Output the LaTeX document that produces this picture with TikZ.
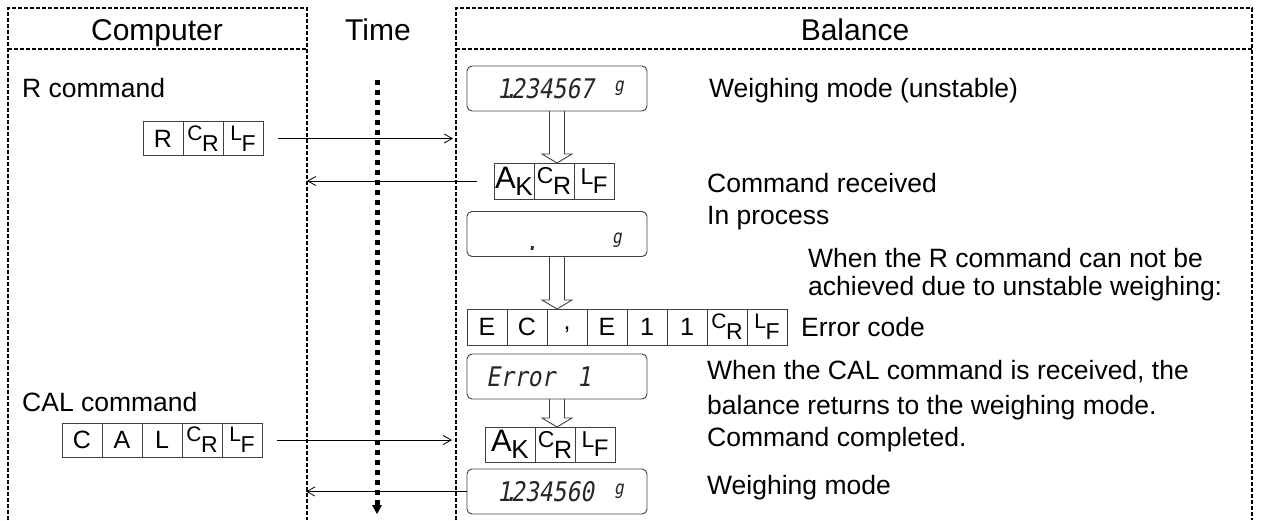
\documentclass[tikz,border=0pt]{standalone}
\usepackage{fontspec}
\setmainfont{Liberation Sans}
\newfontfamily\lcdfont[FakeSlant=0.18,FakeStretch=0.85]{DejaVu Sans Mono}
\usetikzlibrary{positioning,arrows.meta,calc}
\newcommand\pairtxt[6]{\raisebox{#3pt}{\fontsize{#1}{#1}\selectfont #5}\kern-0.5pt\raisebox{-#4pt}{\fontsize{#2}{#2}\selectfont #6}}
\newcommand\smCR{\pairtxt{21}{23}{5}{6}{C}{R}}
\newcommand\smLF{\pairtxt{21}{23}{5}{6}{L}{F}}
\newcommand\bigAK{\pairtxt{31}{26}{2}{5}{A}{K}}
\newcommand\bigCR{\pairtxt{23}{25}{5}{6}{C}{R}}
\newcommand\bigLF{\pairtxt{23}{24}{4}{5}{L}{F}}
\newcommand\hollowarrow[2]{\draw[hol] let \p1=(#1.south), \p2=(#2.north) in
  (\x1-7.5pt,\y1) -- (\x1-7.5pt,\y2+9pt) -- (\x1-15pt,\y2+9pt) -- (\x1,\y2)
  -- (\x1+15pt,\y2+9pt) -- (\x1+7.5pt,\y2+9pt) -- (\x1+7.5pt,\y1);}
\tikzset{
  frame/.style={line width=1.6pt, dash pattern=on 4pt off 2pt},
  cell/.style={draw=black!75, line width=0.9pt, minimum width=40pt, minimum height=34pt,
    inner sep=0pt, outer sep=0pt, font=\fontsize{25}{25}\selectfont},
  akcell/.style={cell, minimum height=36pt},
  disp/.style={draw=black!75, line width=0.9pt, rounded corners=5pt, minimum width=180pt,
    minimum height=45pt, inner sep=0pt, outer sep=0pt},
  lcd/.style={inner sep=0pt, font=\lcdfont\fontsize{27}{27}\selectfont, text=black!85},
  lcdg/.style={inner sep=0pt, font=\lcdfont\fontsize{19}{19}\selectfont, text=black!85},
  msg/.style={-{Straight Barb[length=8pt,width=9pt]}, line width=0.8pt},
  hol/.style={draw=black!75, line width=0.9pt},
  lbl/.style={anchor=base west, inner sep=0pt, font=\fontsize{26.5}{30}\selectfont},
  head/.style={anchor=base, inner sep=0pt, font=\fontsize{30}{36}\selectfont}
}
\begin{document}
\begin{tikzpicture}[x=1pt,y=-1pt]
\useasboundingbox (0,0) rectangle (1262,520);
% frames
\draw[frame] (8,520) -- (8,8) -- (307,8) -- (307,520);
\draw[frame] (8,49) -- (307,49);
\draw[frame] (456,520) -- (456,8) -- (1252,8) -- (1252,520);
\draw[frame] (456,49) -- (1252,49);
% headers
\node[head] (hcomp) at (157,40) {Computer};
\node[head] (htime) at (378,40) {Time};
\node[head] (hbal) at (855,40) {Balance};
% time arrow
\coordinate (t0) at (377,80);
\coordinate (t1) at (377,505);
\draw[line width=5pt, dash pattern=on 5pt off 5pt] (t0) -- (t1);
\fill (372,505) -- (382,505) -- (377,514) -- cycle;
% left texts
\node[lbl] (rcmd) at (22,97) {R command};
\node[lbl] (calcmd) at (22,411) {CAL command};
% R box
\node[cell] (r1) at (163,138.5) {R};
\node[cell, right=0pt of r1] (r2) {\smCR};
\node[cell, right=0pt of r2] (r3) {\smLF};
% CAL box
\node[cell] (c1) at (82,440) {C};
\node[cell, right=0pt of c1] (c2) {A};
\node[cell, right=0pt of c2] (c3) {L};
\node[cell, right=0pt of c3] (c4) {\smCR};
\node[cell, right=0pt of c4] (c5) {\smLF};
% displays
\node[disp] (d1) at (557,88.5) {};
\node[lcd, anchor=west] (d1t) at (497,88.5) {1\makebox[0pt]{.}234567};
\node[lcdg] (d1g) at (619,88) {g};
\node[disp] (d2) at (557,234) {};
\node[lcd] (d2t) at (532,248) {.};
\node[lcdg] (d2g) at (617,240) {g};
\node[disp] (d3) at (557,376.5) {};
\node[lcd, anchor=west] (d3t) at (486,377) {Error};
\node[lcd] (d3n) at (584,377) {1};
\node[disp] (d4) at (557,491.5) {};
\node[lcd, anchor=west] (d4t) at (497,491.5) {1\makebox[0pt]{.}234560};
\node[lcdg] (d4g) at (619,491) {g};
% AK box 1
\node[akcell] (ak1a) at (514,181) {\bigAK};
\node[akcell, right=0pt of ak1a] (ak1b) {\bigCR};
\node[akcell, right=0pt of ak1b] (ak1c) {\bigLF};
% EC box
\node[akcell] (e1) at (487,327) {E};
\node[akcell, right=0pt of e1] (e2) {C};
\node[akcell, right=0pt of e2] (e3) {\raisebox{-9pt}{,}};
\node[akcell, right=0pt of e3] (e4) {E};
\node[akcell, right=0pt of e4] (e5) {1};
\node[akcell, right=0pt of e5] (e6) {1};
\node[akcell, right=0pt of e6] (e7) {\smCR};
\node[akcell, right=0pt of e7] (e8) {\smLF};
% AK box 2
\node[akcell, minimum width=50pt, minimum height=35pt] (ak2a) at (510,444.5) {\bigAK};
\node[akcell, minimum height=35pt, right=0pt of ak2a] (ak2b) {\bigCR};
\node[akcell, minimum height=35pt, right=0pt of ak2b] (ak2c) {\bigLF};
% hollow arrows
\hollowarrow{d1}{ak1b}
\hollowarrow{d2}{e3}
\hollowarrow{d3}{ak2b}
% message arrows
\coordinate (a1e) at (453,138.5);
\draw[msg] ([xshift=15pt]r3.east) -- (a1e);
\coordinate (a2e) at (307,181);
\draw[msg] ([xshift=-17pt]ak1a.west) -- (a2e);
\coordinate (a3e) at (452,440);
\draw[msg] ([xshift=15pt]c5.east) -- (a3e);
\coordinate (a4e) at (306,491.5);
\draw[msg] (d4.west) -- (a4e);
% right texts
\node[lbl] (t1) at (709,97) {Weighing mode (unstable)};
\node[lbl] (t2) at (707,192) {Command received};
\node[lbl] (t3) at (707,224) {In process};
\node[lbl] (t4) at (808,267) {When the R command can not be};
\node[lbl] (t5) at (808,295) {achieved due to unstable weighing:};
\node[lbl] (t6) at (801,336) {Error code};
\node[lbl] (t7) at (707,379) {When the CAL command is received, the};
\node[lbl] (t8) at (707,414) {balance returns to the weighing mode.};
\node[lbl] (t9) at (707,446) {Command completed.};
\node[lbl] (t10) at (707,494) {Weighing mode};
\end{tikzpicture}
\end{document}
